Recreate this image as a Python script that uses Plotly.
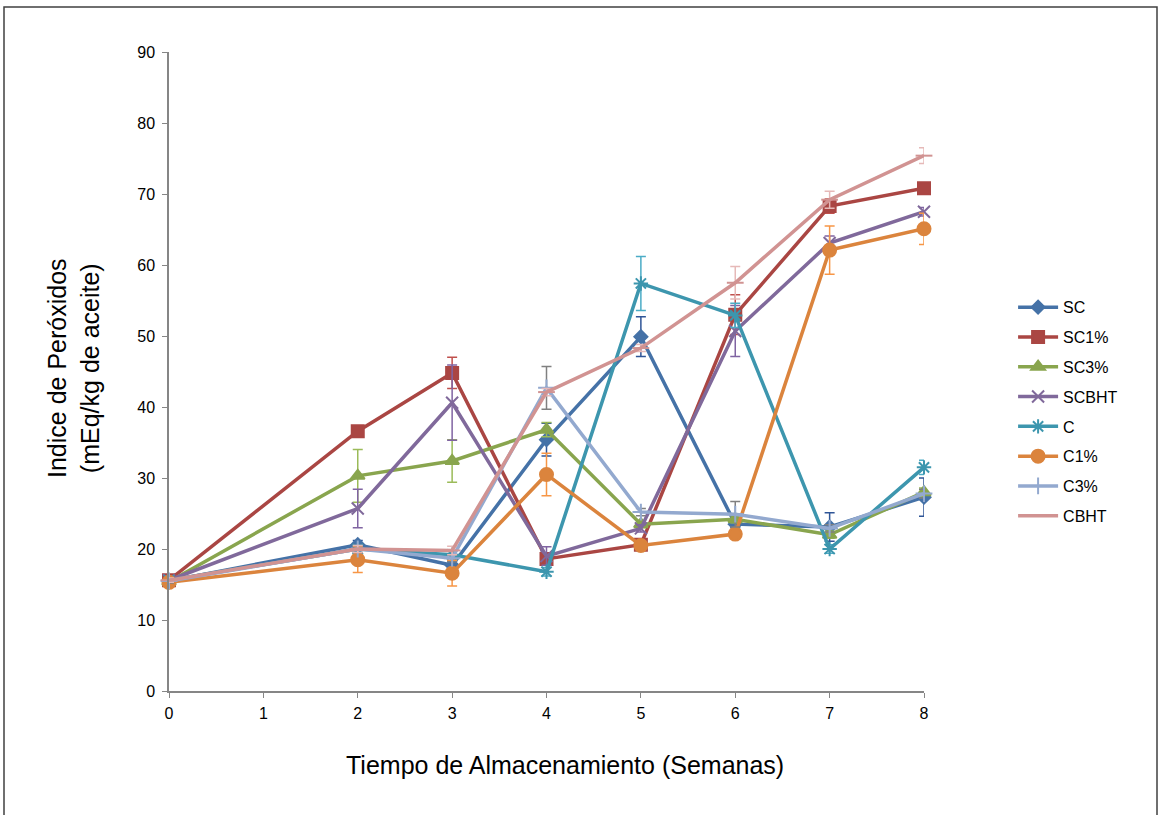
import plotly.graph_objects as go

weeks = [0, 2, 3, 4, 5, 6, 7, 8]
series_names = ["SC", "SC1%", "SC3%", "SCBHT", "C", "C1%", "C3%", "CBHT"]

sc     = [15.5, 20.6, 17.7, 35.4, 49.9, 23.5, 23.1, 27.3]
sc1    = [15.6, 36.6, 44.8, 18.6, 20.6, 53.0, 68.3, 70.8]
sc3    = [15.4, 30.3, 32.4, 36.8, 23.5, 24.2, 22.0, 28.0]
scbht  = [15.6, 25.7, 40.6, 19.0, 22.9, 50.7, 63.1, 67.5]
c      = [15.6, 20.0, 19.2, 16.8, 57.4, 52.9, 20.0, 31.5]
c1     = [15.3, 18.5, 16.6, 30.5, 20.5, 22.1, 62.1, 65.1]
c3     = [15.5, 20.0, 18.7, 42.7, 25.2, 24.9, 22.9, 27.8]
cbht   = [15.6, 20.0, 19.8, 42.1, 48.3, 57.5, 69.2, 75.4]

sc_err    = [0.3, 0.6, 0.6, 2.3, 2.8, 0.5, 2.0, 2.7]
sc1_err   = [0.3, 0.5, 2.2, 0.8, 0.5, 2.8, 1.0, 0.6]
sc3_err   = [0.3, 3.7, 3.0, 1.0, 0.5, 0.5, 0.5, 0.6]
scbht_err = [0.3, 2.7, 5.3, 1.3, 0.5, 3.6, 1.0, 0.6]
c_err     = [0.3, 0.5, 0.5, 0.6, 3.8, 1.7, 0.6, 1.0]
c1_err    = [0.3, 1.8, 1.8, 3.0, 0.5, 0.5, 3.4, 2.2]
c3_err    = [0.3, 0.5, 0.5, 3.0, 0.5, 1.8, 0.5, 0.6]
cbht_err  = [0.3, 0.5, 0.6, 0.5, 0.5, 2.3, 1.2, 1.1]

x_title = "Tiempo de Almacenamiento (Semanas)"
y_title = "Indice de Peróxidos<br>(mEq/kg de aceite)"

values = [sc, sc1, sc3, scbht, c, c1, c3, cbht]
errors = [sc_err, sc1_err, sc3_err, scbht_err, c_err, c1_err, c3_err, cbht_err]
colors = ["#4572A7", "#AA4643", "#89A54E", "#80699B", "#3D96AE", "#DB843D", "#93A9CF", "#D19392"]
err_colors = ["#2F5597", "#C0504D", "#9BBB59", "#8064A2", "#4BACC6", "#F79646", "#808080", "#E6B9B8"]
symbols = ["diamond", "square", "triangle-up", "x-thin-open", "asterisk-open", "circle", "cross-thin-open", "line-ew-open"]
sizes = [10, 12, 12, 12, 12, 13, 12, 12]

fig = go.Figure()
for name, vals, errs, col, ecol, sym, sz in zip(series_names, values, errors, colors, err_colors, symbols, sizes):
    fig.add_trace(go.Scatter(
        x=weeks, y=vals, name=name, mode="lines+markers", legendgroup=name,
        line=dict(color=col, width=3.5),
        marker=dict(symbol=sym, size=sz, color=col, line=dict(color=col, width=2)),
        error_y=dict(type="data", array=errs, visible=True, color=ecol, thickness=1.5, width=5),
        cliponaxis=False,
    ))

fig.update_layout(
    width=1159, height=815,
    margin=dict(l=169, r=235, t=52, b=124),
    paper_bgcolor="white", plot_bgcolor="white",
    font=dict(family="Liberation Sans, Arial, sans-serif", color="#000000"),
    showlegend=True,
    legend=dict(x=1.118, y=0.437, xanchor="left", yanchor="middle",
                font=dict(size=16, color="#000000"), tracegroupgap=6,
                itemwidth=40, bgcolor="rgba(0,0,0,0)"),
    xaxis=dict(range=[0, 8], tickmode="array", tickvals=list(range(0, 9)),
               showgrid=False, zeroline=False, showline=True, linecolor="#868686", linewidth=1.5,
               ticks="outside", ticklen=5, tickcolor="#868686", ticklabelstandoff=2,
               tickfont=dict(size=16, color="#000000")),
    yaxis=dict(range=[0, 90], dtick=10,
               showgrid=False, zeroline=False, showline=True, linecolor="#868686", linewidth=1.5,
               ticks="outside", ticklen=5, tickcolor="#868686", ticklabelstandoff=4,
               tickfont=dict(size=16, color="#000000")),
    annotations=[
        dict(text=x_title, xref="paper", yref="paper", x=(565 - 169) / 755, y=(691 - 765) / 639,
             xanchor="center", yanchor="middle", showarrow=False, font=dict(size=25, color="#000000")),
        dict(text=y_title, xref="paper", yref="paper", x=(73 - 169) / 755, y=(691 - 368) / 639,
             xanchor="center", yanchor="middle", showarrow=False, textangle=-90,
             font=dict(size=25, color="#000000")),
    ],
    shapes=[dict(type="rect", xref="paper", yref="paper",
                 x0=(4 - 169) / 755, x1=(1157 - 169) / 755,
                 y0=-0.3, y1=(691 - 7) / 639,
                 line=dict(color="#404040", width=1.5), fillcolor="rgba(0,0,0,0)", layer="below")],
)

fig.write_html("out.html")
